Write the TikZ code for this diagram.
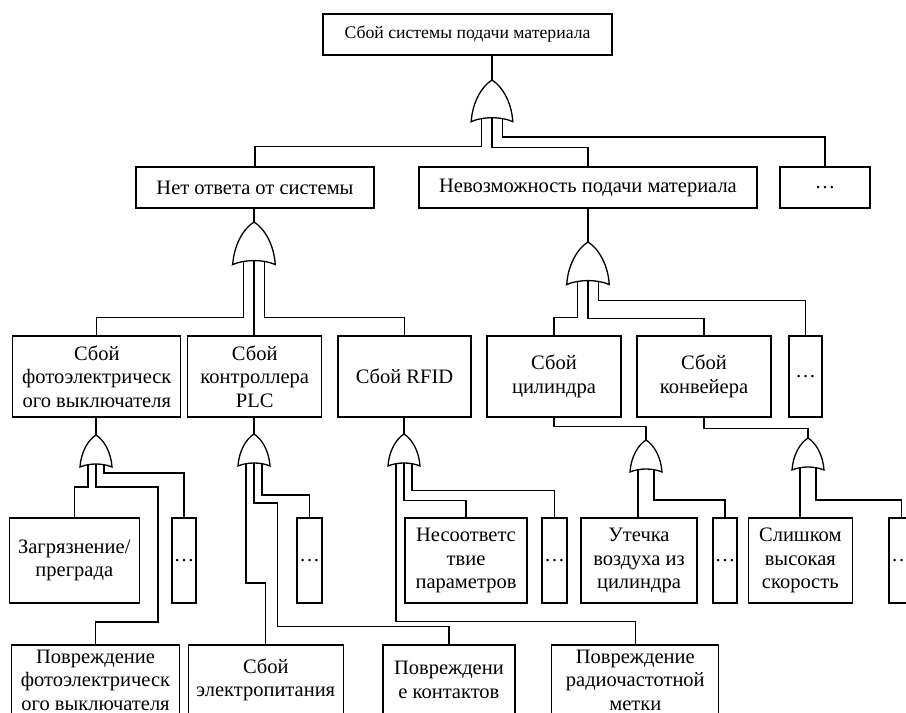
\documentclass[tikz,border=0pt]{standalone}
\usepackage{fontspec}
\setmainfont{Liberation Serif}
\usetikzlibrary{calc}
\tikzset{
  evt/.style  = {draw, line width=1.3pt, align=center, inner sep=0pt,
                 font=\fontsize{20.5}{23.5}\selectfont},
  evttop/.style = {evt, minimum height=41pt, font=\fontsize{17.7}{20}\selectfont},
  evtA/.style = {evt, minimum height=41pt},
  evtB/.style = {evt, minimum height=81pt},
  evtC/.style = {evt, minimum height=85pt},
  evtD/.style = {evt, minimum height=70pt},
  wire/.style = {line width=1.3pt},
  orgate/.pic = {
    \draw[wire] (-16,32) .. controls (-15,17) and (-8,5) .. (0,0)
                .. controls (8,5) and (15,17) .. (16,32)
                .. controls (7,28) and (-7,28) .. cycle;
    \coordinate (-top) at (0,0);
    \coordinate (-l)   at (-8,29.5);
    \coordinate (-m)   at (0,29);
    \coordinate (-r)   at (8,29.5);
  },
}

\begin{document}
\begin{tikzpicture}[x=1pt, y=-1pt]
  \useasboundingbox (0,0) rectangle (906,713);
  \clip (0,0) rectangle (906,713);

  % top event
  \node[evttop, minimum width=289pt] (sys) at (467.5,34.5) {Сбой системы подачи материала};
  \pic[scale=1.3] (g1) at (492,80) {orgate};

  % level 2
  \node[evtA, minimum width=238pt] (noans)  at (255,187.5) {Нет ответа от системы};
  \node[evtA, minimum width=338pt] (nofeed) at (588,187.5) {Невозможность подачи материала};
  \node[evtA, minimum width=90pt]  (more1)  at (825,187.5) {\dots};
  \pic[scale=1.33] (g2) at (254,222) {orgate};
  \pic[scale=1.33] (g3) at (588,242) {orgate};

  % level 3
  \node[evtB, minimum width=168pt] (photo) at (96.8,376.5)  {Сбой\\фотоэлектрическ\\ого выключателя};
  \node[evtB, minimum width=134pt] (plc)   at (254.7,376.5) {Сбой\\контроллера\\PLC};
  \node[evtB, minimum width=133pt] (rfid)  at (404.5,376.5) {Сбой RFID};
  \node[evtB, minimum width=134pt] (cyl)   at (554,376.5)   {Сбой\\цилиндра};
  \node[evtB, minimum width=134pt] (conv)  at (704,376.5)   {Сбой\\конвейера};
  \node[evtB, minimum width=33pt]  (more2) at (805.5,376.5) {\dots};
  \pic (h1) at (96,435)  {orgate};
  \pic (h2) at (254,434) {orgate};
  \pic (h3) at (404,434) {orgate};
  \pic (h4) at (646,440) {orgate};
  \pic (h5) at (808,438) {orgate};

  % level 4
  \node[evtC, minimum width=130pt] (dirt)  at (74.3,560.5)  {Загрязнение/\\преграда};
  \node[evtC, minimum width=24pt]  (more3) at (184,560.5)   {\dots};
  \node[evtC, minimum width=25pt]  (more4) at (309.5,560.5) {\dots};
  \node[evtC, minimum width=122pt] (param) at (466,560.5)   {Несоответс\\твие\\параметров};
  \node[evtC, minimum width=25pt]  (more5) at (554.5,560.5) {\dots};
  \node[evtC, minimum width=116pt] (leak)  at (639,560.5)   {Утечка\\воздуха из\\цилиндра};
  \node[evtC, minimum width=24pt]  (more6) at (725,560.5)   {\dots};
  \node[evtC, minimum width=104pt] (speed) at (800.3,560.5) {Слишком\\высокая\\скорость};
  \node[evtC, minimum width=25pt]  (more7) at (901.5,560.5) {\dots};

  % level 5
  \node[evtD, minimum width=168pt] (photodmg) at (95.5,680)  {Повреждение\\фотоэлектрическ\\ого выключателя};
  \node[evtD, minimum width=155pt] (power)    at (265.8,680) {Сбой\\электропитания};
  \node[evtD, minimum width=132pt] (contact)  at (448.9,680) {Повреждени\\е контактов};
  \node[evtD, minimum width=167pt] (tag)      at (635.3,680) {Повреждение\\радиочастотной\\метки};

  % connectors
  \draw[wire] (sys.south -| g1-top) -- (g1-top);
  \draw[wire] (g1-l) -- ++(0,28) -| (noans);
  \draw[wire] (g1-m) -- ++(0,30) -| (nofeed);
  \draw[wire] (g1-r) -- ++(0,18.5) -| (more1);

  \draw[wire] (noans.south -| g2-top) -- (g2-top);
  \draw[wire] (g2-l) -- ++(0,56) -| (photo);
  \draw[wire] (g2-m) -- (g2-m |- plc.north);
  \draw[wire] (g2-r) -- ++(0,56) -| (rfid);

  \draw[wire] (nofeed.south -| g3-top) -- (g3-top);
  \draw[wire] (g3-l) -- ++(0,36) -| (cyl);
  \draw[wire] (g3-m) -- ++(0,38) -| (conv);
  \draw[wire] (g3-r) -- ++(0,19) -| (more2);

  \draw[wire] (photo.south -| h1-top) -- (h1-top);
  \draw[wire] (h1-l) -- ++(0,22.5) -| (dirt);
  \draw[wire] (h1-m) -- ++(0,23) -| ++(62,135) -| (photodmg);
  \draw[wire] (h1-r) -- ++(0,8.5) -| (more3);

  \draw[wire] (plc.south -| h2-top) -- (h2-top);
  \draw[wire] (h2-l) -- ++(0,119.5) -| (power);
  \draw[wire] (h2-m) -- ++(0,40) -| ++(23.7,123.7) -| (contact);
  \draw[wire] (h2-r) -- ++(0,31.5) -| (more4);

  \draw[wire] (rfid.south -| h3-top) -- (h3-top);
  \draw[wire] (h3-l) -- ++(0,158) -| (tag);
  \draw[wire] (h3-m) -- ++(0,37.7) -| (param);
  \draw[wire] (h3-r) -- ++(0,27) -| (more5);

  \draw[wire] (cyl.south) -- ++(0,9) -| (h4-top);
  \draw[wire] (h4-l) -- (h4-l |- leak.north);
  \draw[wire] (h4-r) -- ++(0,30.5) -| (more6);

  \draw[wire] (conv.south) -- ++(0,11) -| (h5-top);
  \draw[wire] (h5-l) -- (h5-l |- speed.north);
  \draw[wire] (h5-r) -- ++(0,32.5) -| (more7);
\end{tikzpicture}
\end{document}
